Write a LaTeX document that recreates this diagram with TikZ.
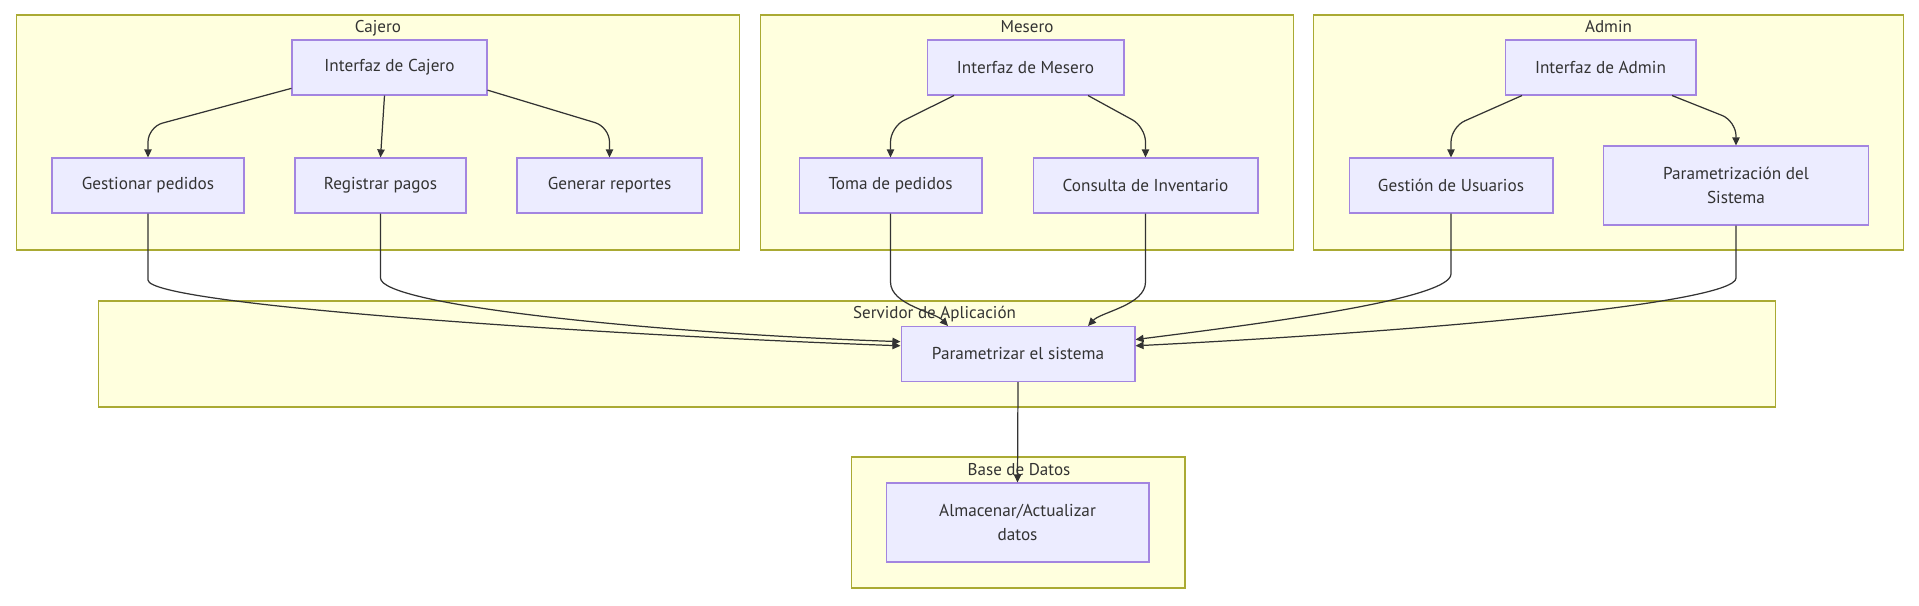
\documentclass[tikz,border=0pt]{standalone}
\usepackage{fontspec}
\setmainfont{PT Sans}
\usetikzlibrary{arrows.meta, calc}

\definecolor{clusterfill}{HTML}{FFFFDE}
\definecolor{clusterline}{HTML}{AAAA33}
\definecolor{boxfill}{HTML}{ECECFF}
\definecolor{boxline}{HTML}{9370DB}
\definecolor{inkgray}{HTML}{333333}

\tikzstyle{cluster} = [rectangle, draw=clusterline, fill=clusterfill, line width=0.6pt, inner sep=0pt]
\tikzstyle{title} = [anchor=base, inner sep=0pt, text=inkgray, font=\fontsize{9.7}{11}\selectfont]
\tikzstyle{process} = [rectangle, minimum height=1.1cm, text centered, align=center,
draw=boxline!85, fill=boxfill, line width=0.6pt, text=inkgray, font=\fontsize{9.8}{14}\selectfont]
\tikzstyle{arrow} = [draw=inkgray, line width=0.7pt, -{Triangle[length=4.6pt,width=4.2pt]}]

\begin{document}
\begin{tikzpicture}[x=0.02cm, y=0.02cm]

  \useasboundingbox (0,0) rectangle (1919,-605);

  \node (cajero) [cluster, minimum width=14.48cm, minimum height=4.7cm] at (378,-132.5) {};
  \node (mesero) [cluster, minimum width=10.68cm, minimum height=4.7cm] at (1027,-132.5) {};
  \node (admin) [cluster, minimum width=11.82cm, minimum height=4.7cm] at (1608.5,-132.5) {};
  \node (servidor) [cluster, minimum width=33.56cm, minimum height=2.12cm] at (937,-354) {};
  \node (base) [cluster, minimum width=6.68cm, minimum height=2.62cm] at (1018,-522.5) {};

  \node (tcajero) [title] at (378,-32) {Cajero};
  \node (tmesero) [title] at (1027,-32) {Mesero};
  \node (tadmin) [title] at (1608.5,-32) {Admin};
  \node (tservidor) [title] at (934.5,-318) {Servidor de Aplicación};
  \node (tbase) [title] at (1019,-475) {Base de Datos};

  \node (icaj) [process, minimum width=3.9cm] at (389.5,-67.5) {Interfaz de Cajero};
  \node (gped) [process, minimum width=3.84cm] at (148,-185.5) {Gestionar pedidos};
  \node (rpag) [process, minimum width=3.42cm] at (380.5,-185.5) {Registrar pagos};
  \node (grep) [process, minimum width=3.7cm] at (609.5,-185.5) {Generar reportes};

  \node (imes) [process, minimum width=3.94cm] at (1025.5,-67.5) {Interfaz de Mesero};
  \node (tped) [process, minimum width=3.66cm] at (890.5,-185.5) {Toma de pedidos};
  \node (cinv) [process, minimum width=4.5cm] at (1145.5,-185.5) {Consulta de Inventario};

  \node (iadm) [process, minimum width=3.82cm] at (1600.5,-67.5) {Interfaz de Admin};
  \node (gusu) [process, minimum width=4.08cm] at (1451,-185.5) {Gestión de Usuarios};
  \node (psis) [process, minimum width=5.29cm, minimum height=1.58cm] at (1736,-185.5) {Parametrización del\\Sistema};

  \node (param) [process, minimum width=4.68cm] at (1018,-354) {Parametrizar el sistema};
  \node (datos) [process, minimum width=5.26cm, minimum height=1.58cm] at (1017.5,-522.5) {Almacenar/Actualizar\\datos};

  \draw [arrow, rounded corners=0.3cm] (icaj.192) -- (148,-127) -- (gped.north);
  \draw [arrow] ($(icaj.south)+(-5,0)$) -- (rpag.north);
  \draw [arrow, rounded corners=0.3cm] (icaj.-13.5) -- (609.5,-127) -- (grep.north);

  \draw [arrow, rounded corners=0.3cm] ($(imes.south)+(-71.5,0)$) -- (890.5,-127) -- (tped.north);
  \draw [arrow, rounded corners=0.3cm] ($(imes.south)+(62.5,0)$) -- (1145.5,-127) -- (cinv.north);

  \draw [arrow, rounded corners=0.3cm] ($(iadm.south)+(-78.5,0)$) -- (1451,-127) -- (gusu.north);
  \draw [arrow, rounded corners=0.3cm] ($(iadm.south)+(71.5,0)$) -- (1736,-121) -- (psis.north);

  \draw [arrow] (gped.south) -- (148,-280) .. controls (148,-305) and (600,-335) .. (param.176);
  \draw [arrow] (rpag.south) -- (380.5,-278) .. controls (380.5,-305) and (650,-333) .. (param.174);
  \draw [arrow] (tped.south) -- (890.5,-282) .. controls (890.5,-305) and (935,-312) .. ($(param.north)+(-70,0)$);
  \draw [arrow] (cinv.south) -- (1145.5,-282) .. controls (1145.5,-305) and (1101,-312) .. ($(param.north)+(70,0)$);
  \draw [arrow] (gusu.south) -- (1451,-274) .. controls (1451,-300) and (1250,-325) .. (param.7);
  \draw [arrow] (psis.south) -- (1736,-278) .. controls (1736,-302) and (1450,-330) .. (param.4);

  \draw [arrow] (param.south) -- (datos.north);

\end{tikzpicture}
\end{document}
